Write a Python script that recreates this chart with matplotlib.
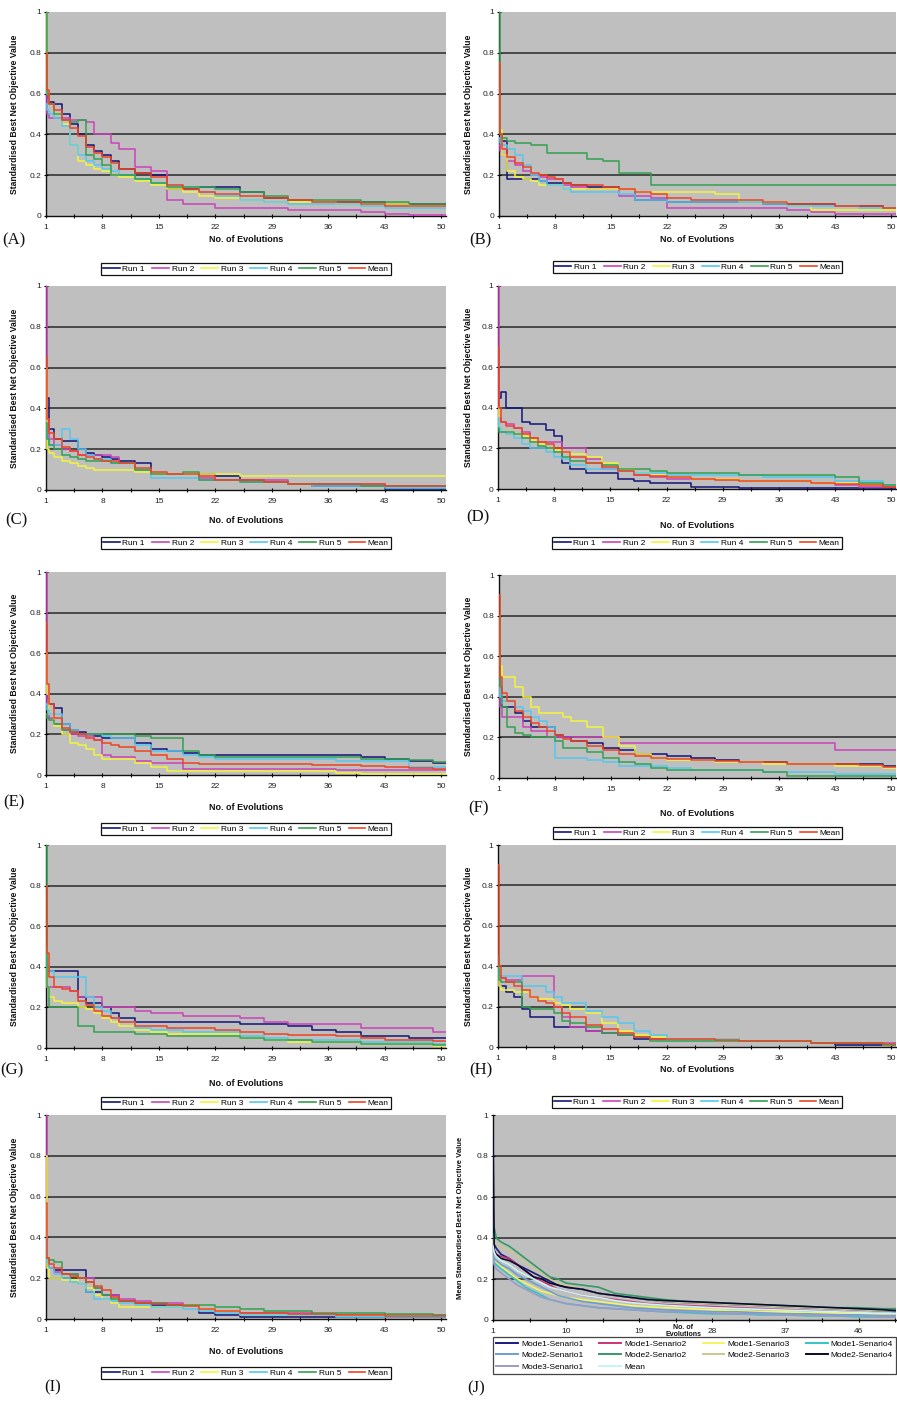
import matplotlib
matplotlib.use("Agg")
import matplotlib.pyplot as plt
from matplotlib.lines import Line2D

plt.rcParams['font.family'] = ['Liberation Sans', 'DejaVu Sans']

# ---------------- data ----------------
EVOLUTIONS = [1, 1.15, 1.4, 2, 3, 4, 5, 6, 7, 8, 9, 10, 12, 14, 16, 18, 20, 22,
              25, 28, 31, 34, 37, 40, 43, 46, 49, 51]

RUN_LABELS = ["Run 1", "Run 2", "Run 3", "Run 4", "Run 5", "Mean"]
RUN_COLORS = ["#14147a", "#cc44bb", "#f4f43c", "#55c8ee", "#33a050", "#ee4422"]

PANEL_A = [
    [0.62,0.58,0.56,0.55,0.50,0.45,0.40,0.35,0.32,0.30,0.27,0.23,0.21,0.20,0.13,0.13,0.14,0.14,0.12,0.09,0.08,0.07,0.07,0.07,0.06,0.06,0.06,0.05],
    [0.70,0.50,0.48,0.48,0.48,0.47,0.47,0.46,0.40,0.40,0.36,0.33,0.24,0.22,0.08,0.06,0.06,0.04,0.04,0.04,0.03,0.03,0.03,0.02,0.01,0.005,0.005,0.005],
    [1.00,0.60,0.55,0.50,0.45,0.35,0.27,0.25,0.23,0.22,0.20,0.19,0.17,0.15,0.13,0.12,0.10,0.09,0.08,0.07,0.07,0.07,0.06,0.06,0.06,0.05,0.05,0.05],
    [0.55,0.52,0.50,0.48,0.44,0.35,0.30,0.27,0.25,0.23,0.22,0.20,0.18,0.16,0.15,0.14,0.12,0.10,0.08,0.07,0.06,0.06,0.06,0.05,0.04,0.04,0.04,0.04],
    [1.00,0.60,0.55,0.50,0.47,0.46,0.47,0.30,0.28,0.25,0.20,0.20,0.18,0.16,0.14,0.14,0.14,0.13,0.12,0.10,0.08,0.08,0.08,0.07,0.07,0.06,0.06,0.06],
    [0.80,0.62,0.55,0.52,0.47,0.43,0.39,0.34,0.31,0.29,0.26,0.23,0.21,0.19,0.15,0.13,0.12,0.11,0.10,0.09,0.08,0.07,0.07,0.06,0.05,0.05,0.05,0.05],
]
PANEL_B = [
    [0.38,0.37,0.37,0.18,0.18,0.18,0.18,0.17,0.16,0.16,0.16,0.15,0.14,0.14,0.13,0.08,0.08,0.07,0.07,0.07,0.07,0.06,0.06,0.06,0.05,0.05,0.04,0.04],
    [0.35,0.32,0.30,0.27,0.25,0.22,0.20,0.19,0.18,0.18,0.15,0.14,0.13,0.13,0.10,0.10,0.09,0.04,0.04,0.04,0.04,0.04,0.03,0.02,0.01,0.01,0.01,0.01],
    [0.60,0.42,0.30,0.22,0.19,0.18,0.17,0.15,0.15,0.15,0.13,0.13,0.13,0.13,0.13,0.12,0.12,0.12,0.12,0.11,0.07,0.07,0.05,0.03,0.03,0.03,0.03,0.03],
    [0.38,0.36,0.35,0.33,0.30,0.25,0.20,0.17,0.15,0.15,0.13,0.12,0.12,0.12,0.11,0.08,0.08,0.07,0.07,0.07,0.07,0.06,0.05,0.05,0.05,0.04,0.04,0.04],
    [1.00,0.40,0.38,0.37,0.36,0.36,0.35,0.35,0.31,0.31,0.31,0.31,0.28,0.27,0.21,0.21,0.15,0.15,0.15,0.15,0.15,0.15,0.15,0.15,0.15,0.15,0.15,0.15],
    [0.75,0.40,0.33,0.29,0.26,0.24,0.21,0.20,0.19,0.18,0.16,0.15,0.15,0.14,0.13,0.12,0.11,0.09,0.08,0.08,0.08,0.07,0.06,0.06,0.05,0.05,0.04,0.04],
]
PANEL_C = [
    [0.30,0.45,0.30,0.25,0.24,0.24,0.20,0.18,0.17,0.16,0.15,0.14,0.13,0.08,0.08,0.08,0.08,0.07,0.05,0.04,0.03,0.02,0.02,0.02,0.005,0.005,0.005,0.005],
    [1.00,0.35,0.25,0.22,0.20,0.19,0.17,0.17,0.17,0.17,0.16,0.13,0.10,0.08,0.08,0.08,0.06,0.05,0.05,0.05,0.03,0.03,0.03,0.03,0.02,0.02,0.02,0.02],
    [0.60,0.20,0.18,0.16,0.14,0.13,0.12,0.11,0.10,0.10,0.10,0.10,0.09,0.08,0.08,0.08,0.08,0.08,0.07,0.07,0.07,0.07,0.07,0.07,0.07,0.07,0.07,0.07],
    [0.30,0.25,0.22,0.22,0.30,0.25,0.20,0.17,0.15,0.15,0.13,0.13,0.10,0.06,0.06,0.06,0.05,0.05,0.04,0.04,0.03,0.02,0.02,0.02,0.01,0.01,0.01,0.01],
    [0.33,0.25,0.22,0.20,0.17,0.16,0.15,0.14,0.14,0.14,0.13,0.13,0.10,0.08,0.08,0.09,0.05,0.05,0.04,0.04,0.03,0.03,0.03,0.02,0.02,0.02,0.02,0.02],
    [0.65,0.35,0.28,0.25,0.21,0.19,0.17,0.16,0.15,0.14,0.14,0.13,0.11,0.09,0.08,0.08,0.07,0.05,0.05,0.04,0.03,0.03,0.03,0.03,0.02,0.02,0.02,0.02],
]
PANEL_D = [
    [0.45,0.45,0.48,0.40,0.40,0.33,0.32,0.32,0.29,0.26,0.13,0.10,0.08,0.08,0.05,0.04,0.03,0.03,0.01,0.01,0.005,0.005,0.005,0.005,0.005,0.005,0.005,0.005],
    [1.00,0.35,0.33,0.32,0.30,0.28,0.25,0.23,0.23,0.23,0.20,0.20,0.15,0.10,0.09,0.07,0.06,0.05,0.05,0.05,0.04,0.04,0.04,0.03,0.02,0.01,0.01,0.01],
    [0.40,0.30,0.28,0.28,0.27,0.26,0.24,0.22,0.20,0.19,0.18,0.17,0.16,0.13,0.10,0.08,0.07,0.06,0.05,0.05,0.04,0.04,0.04,0.03,0.03,0.02,0.02,0.02],
    [0.35,0.30,0.28,0.27,0.25,0.22,0.20,0.20,0.18,0.16,0.15,0.12,0.10,0.10,0.09,0.08,0.08,0.07,0.07,0.07,0.07,0.06,0.06,0.06,0.04,0.04,0.02,0.02],
    [0.30,0.28,0.28,0.28,0.27,0.25,0.23,0.21,0.20,0.18,0.16,0.14,0.13,0.12,0.10,0.10,0.09,0.08,0.08,0.08,0.07,0.07,0.07,0.07,0.06,0.03,0.02,0.02],
    [0.70,0.40,0.33,0.31,0.30,0.27,0.25,0.23,0.22,0.20,0.18,0.16,0.13,0.11,0.09,0.07,0.065,0.06,0.05,0.045,0.04,0.04,0.04,0.03,0.025,0.02,0.01,0.01],
]
PANEL_E = [
    [0.40,0.38,0.35,0.33,0.25,0.22,0.21,0.20,0.19,0.18,0.18,0.18,0.16,0.13,0.12,0.11,0.10,0.10,0.10,0.10,0.10,0.10,0.10,0.09,0.08,0.07,0.06,0.06],
    [1.00,0.35,0.28,0.25,0.22,0.20,0.19,0.19,0.17,0.10,0.09,0.09,0.07,0.06,0.06,0.03,0.03,0.03,0.03,0.03,0.03,0.03,0.025,0.025,0.025,0.025,0.025,0.025],
    [0.60,0.40,0.30,0.24,0.20,0.16,0.15,0.13,0.10,0.08,0.08,0.08,0.06,0.04,0.02,0.02,0.02,0.02,0.02,0.02,0.02,0.02,0.01,0.005,0.005,0.005,0.005,0.005],
    [0.35,0.32,0.30,0.30,0.25,0.22,0.20,0.20,0.20,0.19,0.18,0.18,0.15,0.12,0.12,0.10,0.09,0.08,0.08,0.08,0.08,0.08,0.07,0.07,0.07,0.04,0.04,0.04],
    [0.30,0.28,0.27,0.25,0.22,0.21,0.20,0.20,0.20,0.20,0.20,0.20,0.19,0.18,0.18,0.12,0.10,0.09,0.09,0.09,0.09,0.09,0.09,0.08,0.08,0.075,0.065,0.065],
    [0.75,0.45,0.35,0.28,0.23,0.21,0.20,0.18,0.17,0.16,0.15,0.14,0.12,0.10,0.08,0.06,0.055,0.055,0.055,0.055,0.055,0.05,0.05,0.045,0.04,0.035,0.03,0.03],
]
PANEL_F = [
    [0.40,0.36,0.35,0.35,0.32,0.28,0.25,0.25,0.25,0.21,0.20,0.18,0.17,0.15,0.14,0.12,0.12,0.11,0.10,0.09,0.08,0.08,0.07,0.07,0.07,0.07,0.06,0.06],
    [0.50,0.35,0.30,0.30,0.30,0.25,0.23,0.23,0.20,0.20,0.20,0.20,0.20,0.20,0.17,0.17,0.17,0.17,0.17,0.17,0.17,0.17,0.17,0.17,0.14,0.14,0.14,0.14],
    [0.80,0.55,0.50,0.50,0.45,0.40,0.35,0.32,0.32,0.32,0.30,0.28,0.25,0.20,0.16,0.12,0.10,0.09,0.09,0.08,0.08,0.07,0.07,0.07,0.06,0.06,0.05,0.05],
    [0.45,0.40,0.38,0.38,0.35,0.33,0.30,0.28,0.25,0.10,0.10,0.10,0.09,0.08,0.06,0.06,0.06,0.05,0.04,0.04,0.04,0.03,0.03,0.03,0.02,0.02,0.02,0.02],
    [0.80,0.45,0.35,0.25,0.22,0.21,0.20,0.20,0.20,0.18,0.15,0.15,0.13,0.10,0.08,0.07,0.05,0.04,0.04,0.04,0.04,0.03,0.01,0.01,0.01,0.01,0.01,0.01],
    [0.90,0.50,0.42,0.38,0.33,0.30,0.27,0.25,0.23,0.21,0.19,0.18,0.16,0.14,0.12,0.11,0.10,0.095,0.09,0.085,0.08,0.08,0.07,0.07,0.07,0.065,0.055,0.055],
]
PANEL_G = [
    [0.50,0.38,0.38,0.38,0.38,0.38,0.25,0.22,0.22,0.20,0.17,0.15,0.13,0.13,0.13,0.13,0.13,0.13,0.12,0.12,0.11,0.09,0.08,0.06,0.06,0.05,0.05,0.05],
    [0.45,0.30,0.30,0.30,0.30,0.28,0.25,0.25,0.25,0.20,0.20,0.20,0.18,0.17,0.17,0.16,0.16,0.16,0.15,0.13,0.12,0.12,0.12,0.10,0.10,0.10,0.08,0.08],
    [0.50,0.30,0.25,0.23,0.22,0.22,0.20,0.19,0.17,0.15,0.13,0.11,0.09,0.08,0.07,0.07,0.07,0.07,0.05,0.04,0.03,0.03,0.03,0.02,0.02,0.02,0.01,0.01],
    [0.45,0.40,0.38,0.35,0.35,0.35,0.35,0.25,0.20,0.18,0.15,0.13,0.10,0.09,0.09,0.08,0.08,0.08,0.06,0.05,0.04,0.04,0.04,0.03,0.03,0.03,0.02,0.02],
    [1.00,0.30,0.20,0.20,0.20,0.20,0.11,0.11,0.08,0.08,0.08,0.08,0.07,0.07,0.06,0.06,0.06,0.06,0.05,0.04,0.04,0.03,0.03,0.02,0.02,0.02,0.015,0.015],
    [0.80,0.47,0.35,0.30,0.29,0.28,0.23,0.21,0.18,0.16,0.15,0.13,0.11,0.11,0.10,0.10,0.10,0.09,0.08,0.07,0.065,0.065,0.06,0.05,0.04,0.04,0.035,0.035],
]
PANEL_H = [
    [0.32,0.30,0.30,0.27,0.25,0.19,0.15,0.15,0.15,0.10,0.10,0.10,0.08,0.07,0.06,0.04,0.04,0.04,0.04,0.04,0.03,0.03,0.03,0.02,0.01,0.01,0.01,0.01],
    [0.40,0.35,0.34,0.33,0.33,0.35,0.35,0.35,0.35,0.20,0.15,0.10,0.08,0.07,0.06,0.05,0.04,0.04,0.04,0.04,0.03,0.03,0.03,0.02,0.02,0.02,0.02,0.02],
    [0.40,0.30,0.28,0.28,0.27,0.27,0.25,0.24,0.24,0.22,0.21,0.19,0.17,0.12,0.08,0.06,0.05,0.04,0.04,0.04,0.03,0.03,0.03,0.02,0.02,0.02,0.01,0.01],
    [0.38,0.35,0.35,0.35,0.35,0.30,0.30,0.30,0.27,0.25,0.22,0.22,0.18,0.15,0.12,0.08,0.06,0.04,0.04,0.04,0.03,0.03,0.03,0.02,0.02,0.02,0.015,0.015],
    [0.45,0.33,0.32,0.32,0.32,0.20,0.19,0.19,0.19,0.17,0.13,0.12,0.10,0.07,0.06,0.05,0.03,0.03,0.03,0.03,0.03,0.03,0.03,0.02,0.02,0.02,0.01,0.01],
    [0.90,0.40,0.34,0.32,0.30,0.28,0.25,0.23,0.22,0.20,0.17,0.15,0.11,0.09,0.07,0.05,0.04,0.04,0.04,0.035,0.03,0.03,0.03,0.02,0.02,0.02,0.015,0.015],
]
PANEL_I = [
    [0.28,0.26,0.25,0.24,0.24,0.24,0.24,0.13,0.13,0.12,0.12,0.09,0.08,0.07,0.07,0.07,0.03,0.02,0.01,0.01,0.01,0.01,0.01,0.01,0.01,0.01,0.01,0.01],
    [1.00,0.30,0.25,0.23,0.22,0.22,0.20,0.20,0.15,0.12,0.12,0.10,0.09,0.08,0.08,0.07,0.05,0.04,0.03,0.03,0.03,0.02,0.02,0.02,0.02,0.02,0.02,0.02],
    [0.80,0.25,0.20,0.20,0.19,0.19,0.17,0.15,0.12,0.10,0.08,0.06,0.06,0.06,0.06,0.07,0.05,0.04,0.02,0.02,0.02,0.02,0.015,0.015,0.015,0.015,0.015,0.015],
    [0.40,0.28,0.25,0.22,0.20,0.18,0.17,0.13,0.10,0.10,0.09,0.08,0.07,0.06,0.06,0.05,0.04,0.03,0.02,0.02,0.02,0.02,0.01,0.01,0.01,0.01,0.01,0.01],
    [0.30,0.30,0.29,0.28,0.22,0.22,0.20,0.18,0.15,0.12,0.10,0.09,0.08,0.08,0.07,0.07,0.07,0.06,0.05,0.04,0.04,0.03,0.03,0.03,0.025,0.025,0.02,0.02],
    [0.57,0.30,0.27,0.25,0.22,0.21,0.20,0.18,0.16,0.14,0.11,0.09,0.08,0.075,0.07,0.065,0.05,0.04,0.03,0.03,0.025,0.025,0.02,0.02,0.015,0.015,0.015,0.015],
]

J_LABELS = ["Mode1-Senario1", "Mode1-Senario2", "Mode1-Senario3", "Mode1-Senario4",
            "Mode2-Senario1", "Mode2-Senario2", "Mode2-Senario3", "Mode2-Senario4",
            "Mode3-Senario1", "Mean"]
J_COLORS = ["#1a1a80", "#cc3377", "#f4f460", "#33c4c4",
            "#6f9fd0", "#339966", "#c8c890", "#0a0a30",
            "#9a9ac8", "#c8f4f4"]
PANEL_J = [
    [0.40,0.37,0.35,0.32,0.30,0.27,0.25,0.23,0.21,0.19,0.17,0.16,0.15,0.13,0.12,0.11,0.10,0.09,0.085,0.08,0.075,0.07,0.065,0.06,0.055,0.05,0.045,0.04],
    [0.35,0.33,0.32,0.31,0.30,0.27,0.24,0.21,0.19,0.17,0.15,0.14,0.12,0.11,0.10,0.09,0.08,0.075,0.07,0.065,0.06,0.055,0.05,0.045,0.04,0.035,0.03,0.03],
    [0.38,0.30,0.28,0.26,0.23,0.20,0.18,0.16,0.14,0.13,0.12,0.11,0.10,0.09,0.08,0.07,0.065,0.06,0.055,0.05,0.045,0.04,0.04,0.035,0.035,0.03,0.03,0.03],
    [0.30,0.28,0.27,0.25,0.22,0.19,0.16,0.14,0.12,0.10,0.09,0.08,0.07,0.06,0.055,0.05,0.045,0.04,0.035,0.03,0.03,0.025,0.025,0.02,0.02,0.015,0.015,0.015],
    [0.33,0.30,0.29,0.27,0.25,0.22,0.20,0.18,0.16,0.14,0.12,0.11,0.09,0.08,0.07,0.06,0.055,0.05,0.045,0.04,0.04,0.035,0.03,0.03,0.025,0.025,0.02,0.02],
    [0.50,0.45,0.40,0.38,0.36,0.33,0.30,0.27,0.24,0.21,0.20,0.18,0.17,0.16,0.13,0.12,0.11,0.10,0.09,0.085,0.08,0.075,0.07,0.065,0.06,0.06,0.055,0.055],
    [0.42,0.38,0.37,0.36,0.34,0.31,0.28,0.25,0.22,0.20,0.18,0.17,0.15,0.13,0.12,0.11,0.10,0.09,0.085,0.08,0.075,0.07,0.065,0.06,0.055,0.05,0.045,0.045],
    [0.90,0.34,0.32,0.30,0.29,0.27,0.24,0.21,0.20,0.18,0.17,0.16,0.15,0.13,0.12,0.11,0.10,0.095,0.09,0.085,0.08,0.075,0.07,0.065,0.06,0.055,0.05,0.045],
    [0.30,0.27,0.25,0.23,0.20,0.17,0.15,0.13,0.11,0.10,0.09,0.08,0.07,0.06,0.055,0.05,0.045,0.04,0.04,0.035,0.03,0.03,0.025,0.025,0.02,0.02,0.015,0.015],
    [0.36,0.33,0.31,0.29,0.27,0.24,0.22,0.20,0.18,0.16,0.15,0.14,0.12,0.11,0.095,0.085,0.078,0.072,0.066,0.06,0.056,0.052,0.048,0.044,0.04,0.036,0.032,0.032],
]

RUN_XTICK_LABELS = [1, 8, 15, 22, 29, 36, 43, 50]
J_XTICK_LABELS = [1, 10, 19, 28, 37, 46]
YTICKS = [0, 0.2, 0.4, 0.6, 0.8, 1.0]
YTICK_LABELS = ["0", "0.2", "0.4", "0.6", "0.8", "1"]

# ---------------- layout (pixels) ----------------
W, H = 897, 1401
# (left, top, right, bottom, xlabel_offset, legend_offset, letter_x, letter_y, ylabel_x)
LAYOUT = [
    ("A", PANEL_A, (46, 12, 446, 216, 24, 53, 14, 240, 15)),
    ("B", PANEL_B, (499, 12, 896, 216, 23, 51, 480, 240, 468)),
    ("C", PANEL_C, (46, 286, 446, 490, 30, 53, 16, 520, 15)),
    ("D", PANEL_D, (498, 286, 896, 489, 37, 54, 478, 517, 468)),
    ("E", PANEL_E, (46, 572, 446, 775, 33, 54, 14, 802, 15)),
    ("F", PANEL_F, (499, 575, 896, 778, 35, 55, 478, 808, 468)),
    ("G", PANEL_G, (46, 845, 446, 1048, 36, 55, 12, 1070, 15)),
    ("H", PANEL_H, (498, 845, 896, 1047, 23, 55, 481, 1070, 468)),
    ("I", PANEL_I, (46, 1115, 446, 1319, 32, 54, 53, 1387, 15)),
]

BG = "#bfbfbf"
GRID = "#2a2a2a"

fig = plt.figure(figsize=(W / 100, H / 100), dpi=100)
fig.patch.set_facecolor("white")


def make_axes(l, t, r, b):
    ax = fig.add_axes([l / W, 1 - b / H, (r - l) / W, (b - t) / H])
    ax.set_facecolor(BG)
    ax.set_ylim(0, 1)
    for s in ("top", "right"):
        ax.spines[s].set_visible(False)
    for s in ("left", "bottom"):
        ax.spines[s].set_color("#111111")
        ax.spines[s].set_linewidth(1.0)
    ax.set_yticks(YTICKS)
    ax.set_yticklabels(YTICK_LABELS)
    for yv in YTICKS[1:-1]:
        ax.axhline(yv, color=GRID, lw=1.1, zorder=1)
    ax.tick_params(axis="y", direction="inout", length=3, width=0.8, pad=2,
                   labelsize=6, labelcolor="#222222")
    ax.tick_params(axis="x", direction="inout", length=3, width=0.8, pad=4,
                   labelsize=6, labelcolor="#222222")
    return ax


def set_xticks(ax, labels, step):
    n = int(round((labels[-1] - labels[0]) / step)) * 2 + 1
    pos = [labels[0] + step / 2 * k for k in range(n + 1)]
    pos = [p for p in pos if p <= 50.6]
    ax.set_xticks(pos)
    labset = {float(v) for v in labels}
    ax.set_xticklabels([str(int(p)) if float(p) in labset else "" for p in pos])
    ax.set_xlim(1, 50.6)


for name, series, (l, t, r, b, xo, lo, lx, ly, yx) in LAYOUT:
    ax = make_axes(l, t, r, b)
    for vals, col in zip(series, RUN_COLORS):
        ax.plot(EVOLUTIONS, vals, drawstyle="steps-post", color=col, lw=1.1,
                zorder=3, clip_on=True)
    set_xticks(ax, RUN_XTICK_LABELS, 7)
    cx = (l + r) / 2
    fig.text(cx / W, 1 - (b + xo) / H, "No. of Evolutions", ha="center",
             va="center", fontsize=6.5, fontweight="bold", color="#111111")
    fig.text(yx / W, 1 - ((t + b) / 2) / H, "Standardised Best Net Objective Value",
             rotation=90, ha="center", va="center", fontsize=6.2,
             fontweight="bold", color="#111111")
    fig.text(lx / W, 1 - ly / H, "(%s)" % name, ha="center", va="center",
             fontsize=12, family=["Liberation Serif", "DejaVu Serif"], color="#111111")
    handles = [Line2D([0], [0], color=c, lw=1.2) for c in RUN_COLORS]
    leg = ax.legend(handles, RUN_LABELS, loc="center",
                    bbox_to_anchor=(cx / W, 1 - (b + lo) / H),
                    bbox_transform=fig.transFigure, ncol=6, fontsize=6,
                    frameon=True, fancybox=False, edgecolor="#111111",
                    framealpha=1, handlelength=2.0, handletextpad=0.3,
                    columnspacing=0.9, borderpad=0.25, borderaxespad=0)
    leg.get_frame().set_linewidth(0.9)

# ---------------- panel J ----------------
l, t, r, b = 493, 1115, 896, 1320
axj = make_axes(l, t, r, b)
for vals, col in zip(PANEL_J, J_COLORS):
    axj.plot(EVOLUTIONS, vals, color=col, lw=1.2, zorder=3)
set_xticks(axj, J_XTICK_LABELS, 9)
fig.text(683 / W, 1 - 1331 / H, "No. of\nEvolutions", ha="center", va="center",
         fontsize=5, fontweight="bold", color="#111111", linespacing=1.0)
fig.text(460 / W, 1 - ((t + b) / 2) / H, "Mean Standardised Best Net Objective Value",
         rotation=90, ha="center", va="center", fontsize=5.5, fontweight="bold",
         color="#111111")
fig.text(476 / W, 1 - 1388 / H, "(J)", ha="center", va="center", fontsize=12,
         family=["Liberation Serif", "DejaVu Serif"], color="#111111")
order = [0, 4, 8, 1, 5, 9, 2, 6, 3, 7]
jh = [Line2D([0], [0], color=J_COLORS[i], lw=1.4) for i in order]
jl = [J_LABELS[i] for i in order]
legj = axj.legend(jh, jl, loc="upper left",
                  bbox_to_anchor=(l / W, 1 - 1382 / H, (r - l) / W, 45 / H),
                  bbox_transform=fig.transFigure, ncol=4, mode="expand",
                  fontsize=6, frameon=True, fancybox=False, edgecolor="#444444",
                  framealpha=1, handlelength=2.6, handletextpad=0.4,
                  labelspacing=0.45, borderpad=0.35, borderaxespad=0)
legj.get_frame().set_linewidth(0.9)

fig.savefig("out.png", dpi=100, facecolor="white")
